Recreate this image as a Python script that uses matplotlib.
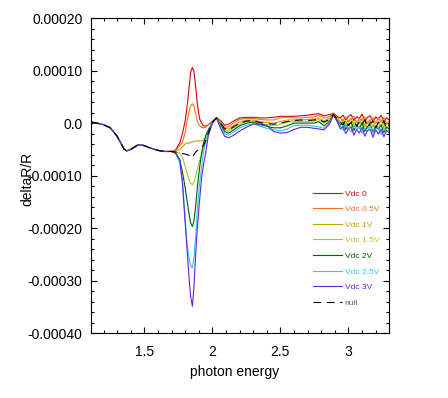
import matplotlib as mpl
mpl.use("Agg")
import matplotlib.pyplot as plt
from matplotlib.ticker import MultipleLocator, FuncFormatter
import numpy as np

plt.rcParams['font.family'] = ['Liberation Sans', 'DejaVu Sans']

# photon energy (eV) and deltaR/R in units of 1e-5
energy = [1.11, 1.15, 1.20, 1.25, 1.30, 1.35, 1.37, 1.40, 1.45, 1.47,
          1.50, 1.55, 1.60, 1.65, 1.70, 1.73, 1.76, 1.78, 1.80, 1.815,
          1.83, 1.84, 1.853, 1.865, 1.878, 1.89, 1.905, 1.92, 1.935, 1.95,
          1.97, 2.00, 2.03, 2.06, 2.09, 2.12, 2.15, 2.20, 2.25, 2.30,
          2.35, 2.40, 2.45, 2.50, 2.55, 2.60, 2.65, 2.70, 2.75, 2.78,
          2.82, 2.86, 2.89, 2.92, 2.94, 2.96, 2.98, 3.00, 3.02, 3.04,
          3.06, 3.08, 3.10, 3.12, 3.14, 3.16, 3.18, 3.20, 3.22, 3.24,
          3.26, 3.28, 3.30]

vdc_0 = [0.2, 0.0, -0.3, -0.9, -2.5, -4.9, -5.3, -5.0, -4.2, -4.1,
         -4.3, -4.8, -5.2, -5.4, -5.4, -5.1, -3.8, -2.0, 0.4, 3.4,
         7.0, 9.6, 10.6, 9.8, 6.7, 3.5, 0.9, 0.0, -0.5, -0.6,
         -0.3, 0.3, 1.0, 0.5, -0.4, -0.2, 0.3, 1.0, 1.1, 1.1,
         1.0, 1.0, 1.1, 1.3, 1.3, 1.3, 1.4, 1.5, 1.7, 1.8,
         1.4, 1.6, 1.9, 1.2, 1.0, 1.5, 0.6, 1.3, 1.6, 0.5,
         1.2, 0.9, 1.7, 0.4, 1.1, 1.4, 0.3, 1.2, 0.8, 1.5,
         0.2, 1.0, 0.6]
vdc_05 = [0.2, 0.0, -0.3, -0.9, -2.5, -4.9, -5.3, -5.0, -4.2, -4.1,
          -4.3, -4.8, -5.2, -5.4, -5.4, -5.2, -4.3, -3.6, -1.8, 0.5,
          2.4, 3.3, 3.7, 3.2, 1.6, 0.3, -0.5, -0.8, -0.9, -0.8,
          -0.3, 0.3, 1.0, 0.3, -0.8, -0.7, -0.1, 0.7, 0.9, 0.9,
          0.7, 0.6, 0.6, 1.0, 1.1, 1.0, 1.0, 1.1, 1.2, 1.5,
          1.0, 1.2, 1.8, 1.0, 0.9, 0.4, 1.2, 0.2, 0.8, 1.3,
          0.1, 0.9, 0.5, 1.2, -0.1, 0.6, 1.0, 0.0, 0.9, 0.3,
          1.1, -0.2, 0.5]
vdc_1 = [0.2, 0.0, -0.3, -0.9, -2.5, -4.9, -5.3, -5.0, -4.2, -4.1,
         -4.3, -4.8, -5.2, -5.4, -5.4, -5.3, -5.0, -4.5, -4.0, -3.7,
         -3.9, -3.6, -3.6, -3.5, -3.4, -3.4, -3.4, -3.4, -3.2, -3.0,
         -1.9, 0.0, 1.0, 0.1, -1.0, -1.1, -0.6, 0.2, 0.6, 0.6,
         0.3, 0.1, 0.0, 0.3, 0.6, 0.6, 0.6, 0.7, 0.8, 1.0,
         0.5, 0.9, 1.8, 0.8, 0.2, 0.8, -0.4, 0.5, 0.9, -0.5,
         0.3, -0.1, 0.9, -0.7, 0.2, 0.6, -0.8, 0.3, -0.3, 0.6,
         -0.9, 0.1, -0.4]
vdc_15 = [0.2, 0.0, -0.3, -0.9, -2.5, -4.9, -5.3, -5.0, -4.2, -4.1,
          -4.3, -4.8, -5.2, -5.4, -5.4, -5.5, -5.7, -6.6, -8.2, -9.6,
          -10.9, -11.5, -11.7, -11.2, -10.0, -8.7, -7.3, -6.1, -4.8, -3.6,
          -2.1, 0.0, 1.0, -0.1, -1.3, -1.5, -1.0, -0.2, 0.3, 0.4,
          0.0, -0.3, -0.5, -0.2, 0.2, 0.3, 0.3, 0.3, 0.4, 0.7,
          0.0, 0.6, 1.7, 0.6, 0.3, -0.5, 0.4, -0.2, -0.9, 0.3,
          -0.4, 0.5, -0.6, 0.1, -1.0, -0.1, 0.2, -1.1, -0.2, -0.7,
          0.1, -1.2, -0.5]
vdc_2 = [0.2, 0.0, -0.3, -0.9, -2.5, -4.9, -5.3, -5.0, -4.2, -4.1,
         -4.3, -4.8, -5.2, -5.4, -5.4, -5.6, -7.0, -9.3, -12.3, -15.0,
         -17.6, -19.0, -19.7, -18.6, -15.6, -12.1, -8.7, -5.8, -3.8, -2.4,
         -1.3, 0.2, 1.0, -0.3, -1.6, -1.9, -1.4, -0.5, 0.0, 0.2,
         -0.3, -0.6, -0.9, -0.9, -0.5, 0.0, 0.0, 0.0, 0.0, 0.3,
         -0.5, 0.3, 1.6, 0.4, -0.4, 0.2, -1.2, -0.2, 0.1, -1.4,
         -0.4, -1.0, 0.1, -1.6, -0.6, -0.3, -1.7, -0.5, -1.2, -0.3,
         -1.8, -0.7, -1.2]
vdc_25 = [0.2, 0.0, -0.3, -0.9, -2.5, -4.9, -5.3, -5.0, -4.2, -4.1,
          -4.3, -4.8, -5.2, -5.4, -5.4, -5.7, -7.5, -10.8, -18.2, -23.2,
          -26.0, -27.1, -27.6, -25.6, -21.3, -16.2, -11.6, -8.5, -5.5, -3.5,
          -1.8, 0.2, 1.0, -0.6, -2.0, -2.3, -1.8, -0.9, -0.4, -0.1,
          -0.6, -1.0, -1.3, -1.5, -1.1, -0.5, -0.4, -0.4, -0.6, -0.7,
          -1.0, 0.0, 1.6, 0.1, -0.5, -1.4, -0.3, -1.1, -1.7, -0.4,
          -1.2, -0.6, -1.9, -0.9, -1.5, -0.5, -2.0, -1.1, -0.7, -2.2,
          -1.0, -1.6, -1.3]
vdc_3 = [0.2, 0.0, -0.3, -0.9, -2.5, -4.9, -5.3, -5.0, -4.2, -4.1,
         -4.3, -4.8, -5.2, -5.4, -5.4, -5.8, -7.0, -11.5, -19.0, -24.5,
         -30.0, -33.0, -34.9, -31.0, -24.5, -19.8, -15.0, -10.6, -7.9, -5.8,
         -2.4, 0.0, 1.0, -1.0, -2.5, -2.8, -2.4, -1.5, -0.8, -0.2,
         -0.2, -0.4, -1.6, -1.9, -1.8, -1.2, -0.8, -0.8, -1.0, -1.1,
         -1.3, -0.2, 1.5, 0.2, -1.1, -0.6, -2.0, -1.0, -0.8, -2.3,
         -1.2, -1.9, -0.8, -2.5, -1.4, -1.2, -2.7, -1.3, -2.1, -1.1,
         -2.6, -1.4, -1.9]
null = [0.2, 0.0, -0.3, -0.9, -2.5, -4.9, -5.3, -5.0, -4.2, -4.1,
        -4.3, -4.8, -5.2, -5.4, -5.4, -5.5, -5.7, -5.8, -5.9, -6.0,
        -6.2, -6.5, -6.6, -6.0, -5.5, -5.2, -4.9, -4.6, -4.3, -3.4,
        -1.8, 0.2, 1.0, 0.0, -1.1, -1.3, -0.8, 0.0, 0.4, 0.5,
        0.1, -0.1, -0.2, 0.0, 0.3, 0.5, 0.6, 0.5, 0.6, 0.8,
        0.2, 0.7, 1.7, 0.7, 0.1, -0.3, 0.6, -0.5, 0.2, 0.5,
        -0.6, 0.3, -0.2, 0.6, -0.8, 0.1, 0.3, -0.9, 0.2, -0.4,
        0.4, -1.0, -0.3]

series = [vdc_0, vdc_05, vdc_1, vdc_15, vdc_2, vdc_25, vdc_3]
labels = ['Vdc 0', 'Vdc 0.5V', 'Vdc 1V', 'Vdc 1.5V', 'Vdc 2V', 'Vdc 2.5V', 'Vdc 3V']
colors = ['#d80000', '#f07020', '#c8a000', '#a8c828', '#005f00', '#28c8f0', '#6820e0']

fig = plt.figure(figsize=(4.48, 3.98), dpi=100)
ax = fig.add_axes([0.2025, 0.163, 0.6665, 0.7915])

for vals, lab, col in zip(series, labels, colors):
    ax.plot(energy, np.array(vals) * 1e-5, color=col, lw=0.8, label=lab)
ax.plot(energy, np.array(null) * 1e-5, color='black', lw=0.8,
        ls=(0, (7, 5)), label='null')

ax.set_xlim(1.106, 3.30)
ax.set_ylim(-0.0004, 0.0002)
ax.xaxis.set_major_locator(MultipleLocator(0.5))
ax.xaxis.set_minor_locator(MultipleLocator(0.1))
ax.yaxis.set_major_locator(MultipleLocator(0.0001))
ax.yaxis.set_minor_locator(MultipleLocator(0.00002))
ax.xaxis.set_major_formatter(FuncFormatter(lambda v, p: '%g' % v))
ax.yaxis.set_major_formatter(FuncFormatter(
    lambda v, p: '0.0' if abs(v) < 1e-12 else '%.5f' % v))
ax.tick_params(which='both', direction='in', top=True, right=True,
               labelsize=10, width=0.8)
ax.tick_params(which='major', length=4)
ax.tick_params(which='minor', length=2)
ax.tick_params(axis='x', pad=8.5)
ax.tick_params(axis='y', pad=6)

ax.set_xlabel('photon energy', fontsize=10)
ax.set_ylabel('deltaR/R', fontsize=10)
ax.xaxis.set_label_coords(0.483, -0.10)
ax.yaxis.set_label_coords(-0.19, 0.49)

leg = ax.legend(loc='upper left', bbox_to_anchor=(0.745, 0.455), frameon=False,
                fontsize=6, handlelength=3.4, handletextpad=0.4,
                labelspacing=0.93, borderpad=0, borderaxespad=0)
for text, line in zip(leg.get_texts(), leg.get_lines()):
    text.set_color(line.get_color())
leg.get_texts()[-1].set_color('#606060')

fig.savefig('out.png', dpi=100)
